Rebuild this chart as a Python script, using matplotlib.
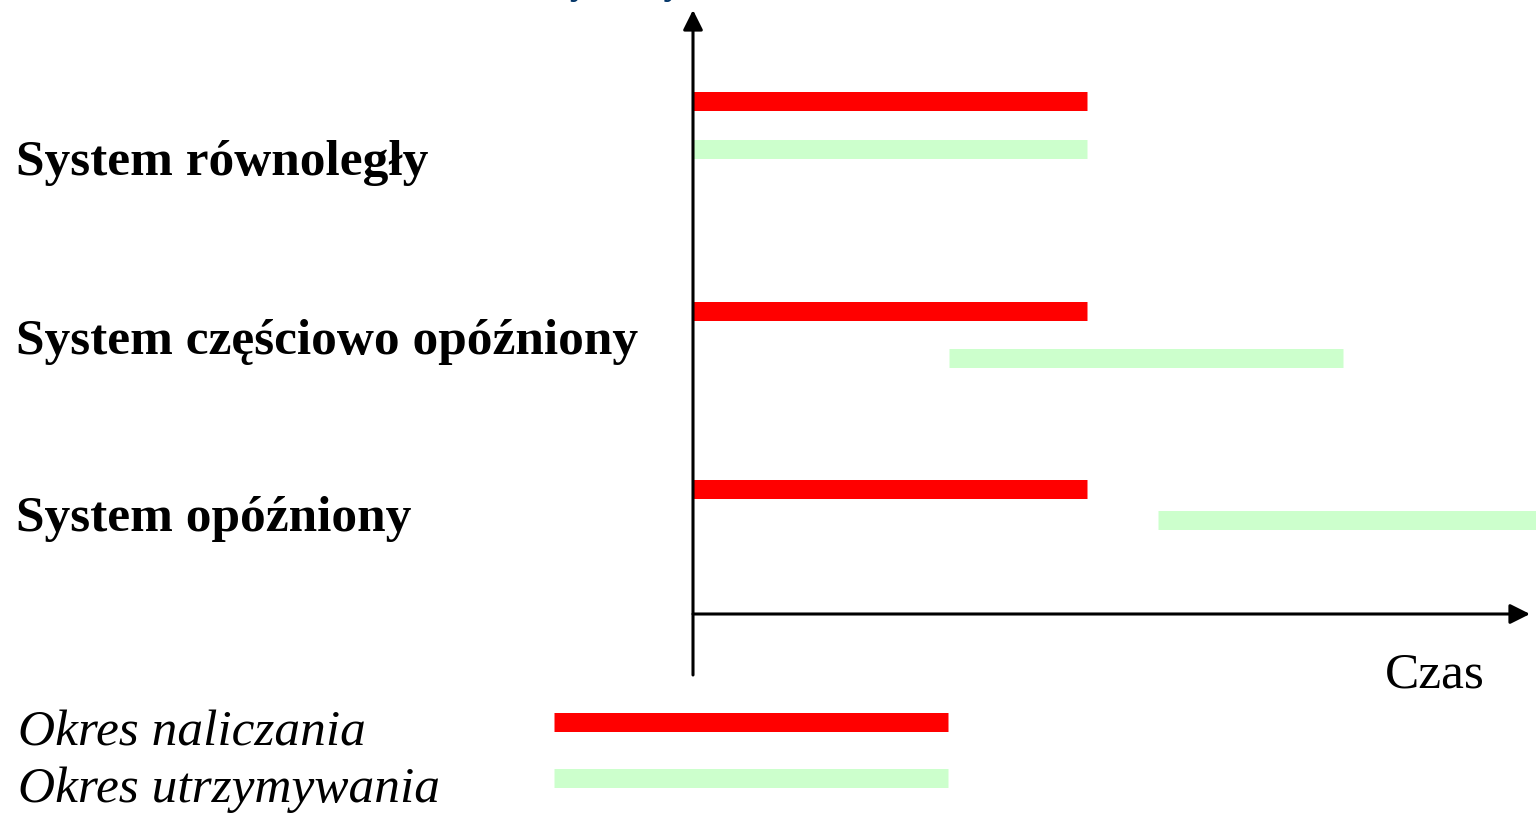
import matplotlib.pyplot as plt

plt.rcParams['font.family'] = ['Liberation Serif', 'DejaVu Serif']

# systemy i okresy (czas w umownych jednostkach)
systemy = ['System równoległy', 'System częściowo opóźniony', 'System opóźniony']
nalicz_start = [0, 0, 0]
nalicz_koniec = [10, 10, 10]
utrzym_start = [0, 6.5, 11.8]
utrzym_koniec = [10, 16.5, 21.8]

czerwony = '#ff0000'
zielony = '#ccffcc'

# rzędy w pikselach (oś y odwrócona)
y_nalicz = [101, 311, 489]
y_utrzym = [149, 358, 520]
y_etykiet = [175, 354, 531]

fig = plt.figure(figsize=(15.36, 8.14), dpi=100)
ax = fig.add_axes([0, 0, 1, 1])
px = 39.4  # pikseli na jednostkę czasu
x0 = 693
ax.set_xlim(-x0 / px, (1536 - x0) / px)
ax.set_ylim(814, 0)
ax.axis('off')

rozmiar = 37
grub = 19 * 0.72  # grubość paska w punktach
for i in range(len(systemy)):
    ax.plot([nalicz_start[i], nalicz_koniec[i]], [y_nalicz[i]] * 2, color=czerwony,
            lw=grub, solid_capstyle='butt')
    ax.plot([utrzym_start[i], utrzym_koniec[i]], [y_utrzym[i]] * 2, color=zielony,
            lw=grub, solid_capstyle='butt')
    ax.text((16 - x0) / px, y_etykiet[i], systemy[i], fontsize=rozmiar, fontweight='bold',
            va='baseline', ha='left')

# osie ze strzałkami
ax.annotate('', xy=(0, 10), xytext=(0, 675),
            arrowprops=dict(arrowstyle='-|>', lw=2.2, color='black', mutation_scale=30,
                            shrinkA=0, shrinkB=0))
ax.annotate('', xy=(1530 / px - x0 / px, 614), xytext=(0, 614),
            arrowprops=dict(arrowstyle='-|>', lw=2.2, color='black', mutation_scale=30,
                            shrinkA=0, shrinkB=0))
ax.text((1485 - x0) / px, 687, 'Czas', fontsize=rozmiar, ha='right', va='baseline')

# tytuł (ucięty u góry)
ax.text((549 - x0) / px, -6, 'Systemy', fontsize=27, fontweight='bold', color='#003366',
        ha='left', va='baseline')

# legenda
leg_start = (554 - x0) / px
leg_koniec = (948 - x0) / px
ax.plot([leg_start, leg_koniec], [721.5, 721.5], color=czerwony, lw=grub, solid_capstyle='butt')
ax.plot([leg_start, leg_koniec], [777.5, 777.5], color=zielony, lw=grub, solid_capstyle='butt')
ax.text((18 - x0) / px, 746, 'Okres naliczania', fontsize=rozmiar, style='italic', va='baseline')
ax.text((18 - x0) / px, 802, 'Okres utrzymywania', fontsize=rozmiar, style='italic', va='baseline')

fig.savefig('out.png', dpi=100)
